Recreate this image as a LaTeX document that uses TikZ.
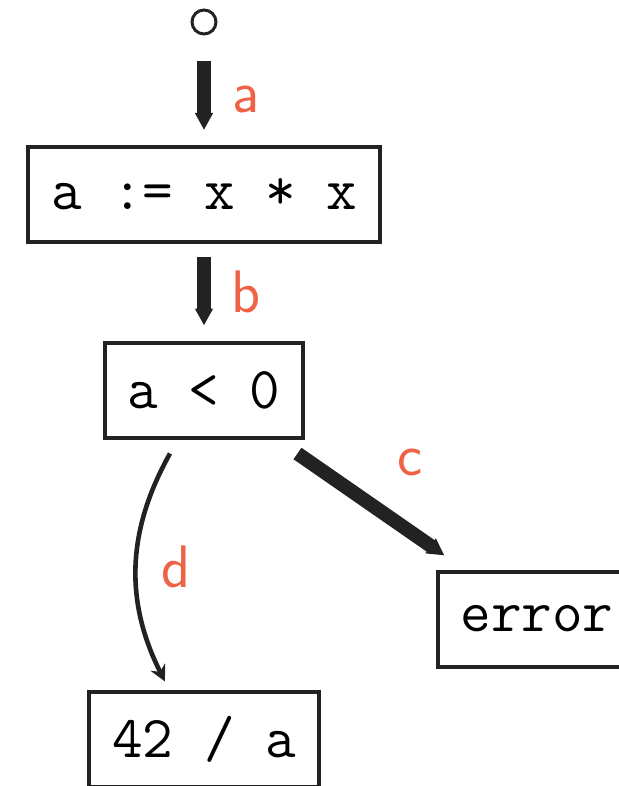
\documentclass[tikz,border=0pt]{standalone}
\usepackage{fontspec}
\usetikzlibrary{arrows.meta}
\definecolor{edgelbl}{HTML}{EE6345}
\definecolor{ink}{HTML}{222222}
\begin{document}
\begin{tikzpicture}[x=0.5pt,y=-0.5pt,
  stmt/.style={draw=ink,line width=2pt,rectangle,inner xsep=11.5pt,minimum height=47.5pt,font=\fontsize{29.7}{32}\selectfont\ttfamily},
  flow/.style={draw=ink,fill=ink,line width=7pt,-{Triangle[length=8.5pt,width=8.5pt]}},
  ctrl/.style={draw=ink,line width=2.3pt,-{Stealth[length=8pt,width=8pt]}},
  lbl/.style={text=edgelbl,font=\fontsize{30}{32}\selectfont\sffamily}]
\useasboundingbox (0,0) rectangle (618,786);
% entry point
\node[circle,draw=ink,line width=1.5pt,minimum size=12pt,inner sep=0pt] (entry) at (204,22) {};
% statements
\node[stmt] (assign) at (204,194.5) {a := x * x};
\node[stmt] (cond) at (204,390) {a < 0};
\node[stmt] (fail) at (537,619) {error};
\node[stmt] (result) at (204,739) {42 / a};
% edges
\draw[flow,shorten <=13pt,shorten >=7.5pt] (entry.south) -- node[lbl,xshift=21pt,yshift=-4.5pt]{a} (assign.north);
\draw[flow,shorten <=6.5pt,shorten >=7.5pt] (assign.south) -- node[lbl,xshift=21pt]{b} (cond.north);
\draw[flow] ([shift={(-4pt,-7pt)}]cond.south east) -- node[lbl,xshift=19.5pt,yshift=21pt]{c} ([shift={(4.5pt,7pt)}]fail.north west);
\draw[ctrl] ([shift={(-17pt,-7pt)}]cond.south) to[bend right=28] node[lbl,xshift=20pt]{d} ([shift={(-19.5pt,4pt)}]result.north);
\end{tikzpicture}
\end{document}
